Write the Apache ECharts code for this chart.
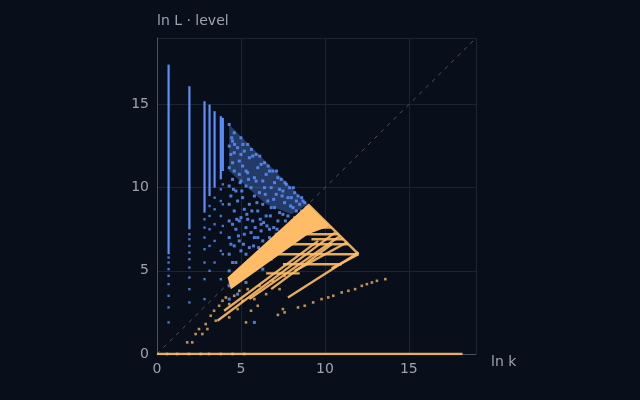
<!DOCTYPE html><html><head><meta charset="utf-8"><script src="https://cdn.jsdelivr.net/npm/echarts@6/dist/echarts.min.js"></script>
<style>html,body{margin:0;background:#080e1a}#c{width:640px;height:400px}</style></head><body><div id="c"></div><script>
var blueColumns=[[0.69,6.0,17.4],[1.93,7.5,16.1],[2.83,8.5,15.2],[3.13,9.5,15.0],[3.43,10,14.6],[3.8,10.5,14.3],[3.92,11,14.2]];
var blueColumnDots=[[0.69,1.9],[0.69,2.8],[0.69,3.5],[0.69,4.2],[0.69,4.7],[0.69,5.1],[0.69,5.5],[0.69,5.8],
[1.93,3.1],[1.93,3.9],[1.93,4.6],[1.93,5.2],[1.93,5.7],[1.93,6.1],[1.93,6.5],[1.93,6.9],[1.93,7.2],
[2.83,3.3],[2.83,4.5],[2.83,5.5],[2.83,6.3],[2.83,7.0],[2.83,7.6],[2.83,8.1],[3.13,5.0],[3.13,6.5],[3.13,7.5],[3.13,8.3],[3.13,8.9],
[3.43,5.5],[3.43,6.8],[3.43,7.8],[3.43,8.7],[3.43,9.4],[3.8,4.5],[3.8,6.2],[3.8,7.3],[3.8,8.3],[3.8,9.2],[3.8,9.9],[3.92,6.0],[3.92,7.7],[3.92,9.0],[3.92,10.2]];
var blueBand=[[4.3,13.8],[9.0,9.0],[8.0,8.4],[6.5,9.0],[4.3,11.0]];
var blueScatter=[[4.3,13.8],[4.3,12.5],[4.3,11.2],[4.3,10.1],[4.3,9.0],[4.3,8.0],[4.3,7.0],[4.3,6.0],[4.3,5.0],[4.3,4.1],[4.3,3.3],
[4.6,13.3],[4.6,12.1],[4.6,11.0],[4.7,9.8],[4.6,8.6],[4.7,7.5],[4.6,6.5],[4.7,5.5],[4.6,4.4],[4.8,3.6],
[5.0,13.0],[5.0,12.0],[5.1,11.3],[5.0,10.4],[5.1,9.4],[5.0,8.2],[5.2,7.2],[5.0,6.2],[5.2,5.1],[5.3,4.3],
[5.4,12.6],[5.5,11.8],[5.4,10.9],[5.6,10.0],[5.5,9.0],[5.4,8.1],[5.6,7.3],[5.5,6.4],[5.7,5.4],[5.8,1.9],
[5.9,12.0],[6.0,11.2],[5.9,10.4],[6.1,9.7],[6.0,8.6],[6.2,7.8],[6.0,7.0],[6.2,6.0],[6.3,5.1],
[6.4,11.5],[6.5,10.8],[6.4,10.0],[6.6,9.2],[6.5,8.3],[6.7,7.5],[6.6,6.6],[6.8,5.7],
[6.9,11.0],[7.0,10.3],[7.1,9.6],[7.0,8.8],[7.2,8.0],[7.1,7.2],[7.3,6.4],
[7.4,10.5],[7.5,9.8],[7.6,9.1],[7.5,8.4],[7.7,7.6],[7.8,6.9],
[7.9,10.0],[8.0,9.4],[8.1,8.8],[8.2,8.2],[8.0,7.4],
[8.4,9.5],[8.5,9.0],[8.6,8.6],[8.8,9.1],[8.9,8.8],
[4.45,13.0],[4.5,12.8],[4.8,12.4],[5.2,12.2],[5.7,11.9],[6.2,11.4],[6.7,11.0],[7.2,10.6],[7.7,10.2],[8.2,9.7],[8.7,9.2],
[4.4,12.0],[4.9,11.6],[5.3,11.0],[5.8,10.6],[6.3,10.4],[6.8,10.0],[7.3,9.9],[7.8,9.4],[8.3,9.2],
[4.5,11.5],[4.9,10.8],[5.3,10.1],[5.8,9.5],[6.3,9.0],[6.8,8.8],[7.3,8.5],[7.8,8.3],
[4.5,10.5],[4.8,9.2],[5.2,8.7],[5.7,8.0],[6.2,7.4],[6.7,7.0],[7.2,6.8],
[4.4,9.5],[4.9,8.0],[5.3,7.6],[5.8,7.0],[6.3,6.8],[4.5,7.8],[4.9,6.8],[5.3,6.0],[5.9,5.8],[4.4,6.6],[4.9,5.0],[5.2,4.8],[4.5,5.5],[4.4,4.6],
[4.55,9.9],[4.75,8.1],[4.85,7.1],[5.05,9.8],[5.15,6.6],[5.35,8.4],[5.45,5.6],[5.65,8.6],[5.75,6.5],[5.85,7.6],[6.05,6.4],[6.15,8.1],[6.35,7.9],[6.45,6.2],[6.55,7.7],
[6.75,8.3],[6.85,6.4],[6.95,7.6],[7.15,7.5],[7.35,7.3],[7.45,7.0],[7.65,8.0],[7.85,7.7],[8.05,8.0],[8.3,8.6],
[4.62,12.6],[5.12,12.6],[5.62,12.3],[6.12,11.9],[6.62,11.3],[7.12,11.0],[7.62,10.3],[8.12,10.0],[8.62,9.4],[4.95,10.3],[5.45,10.5],[5.95,9.1],[6.45,9.6],[6.95,9.3],[7.45,9.5],[7.95,8.9]];
var orangeDense=[[4.2,4.6],[9.0,9.0],[10.3,7.7],[9.0,7.2],[4.4,3.9]];
var orangeStripes=[[8.2,7.2,10.8,7.2],[7.0,6.6,11.4,6.6],[7.2,6.0,12.0,6.0],[7.5,5.4,11.0,5.4],[6.5,4.85,8.5,4.85],[8.6,7.6,10.4,7.6],[9.2,6.9,11.1,6.9],
[3.6,2.0,10.6,7.3],[5.5,3.3,10.9,7.1],[7.8,3.4,12.0,6.1],[6.8,3.9,10.4,6.6],[9.0,9.0,12.0,6.0],[10.4,5.15,12.0,6.0],[4.0,2.6,9.6,6.8],[8.2,5.0,11.3,6.7],[0,0,18.2,0]];
var orangeScatter=[[7.2,2.35],[7.6,2.5],[8.4,2.8],[8.8,2.9],[9.3,3.1],[9.8,3.3],[10.2,3.4],[10.5,3.5],[11.0,3.7],[11.4,3.8],[11.8,3.9],[12.2,4.1],[12.5,4.2],[12.8,4.3],[13.1,4.4],[13.6,4.5],
[1.8,0.7],[2.1,0.7],[2.3,1.2],[2.5,1.5],[2.7,1.2],[2.9,1.8],[3.0,1.5],[3.2,2.3],[3.4,2.6],[3.5,2.0],[3.7,2.9],[3.9,3.2],[4.1,3.4],[4.3,3.0],[4.6,3.5],[4.9,3.8],[5.1,3.2],[5.4,3.9],[5.8,3.3],[6.1,4.1],[6.5,3.6],[6.9,4.4],[7.3,3.9],[7.6,4.7],[6.0,2.9],[5.6,2.6],[4.8,2.7],[4.3,2.2],[5.3,1.9],[7.5,2.7],
[0.6,0],[1.2,0],[1.9,0],[2.6,0],[3.1,0],[3.8,0],[4.5,0],[5.2,0]];
var blue='#5b8ff9',orange='#ffbc66';
function poly(pts,color,op,z){return {type:'custom',data:[0],z:z,silent:true,renderItem:function(p,api){return {type:'polygon',shape:{points:pts.map(function(d){return api.coord(d);})},style:{fill:color,opacity:op}};}};}
var series=[];
series.push({type:'line',data:[[0,0],[19,19]],symbol:'none',silent:true,z:1,lineStyle:{color:'#5d6675',width:0.8,type:[4,5]}});
blueColumns.forEach(function(c){series.push({type:'line',data:[[c[0],c[1]],[c[0],c[2]]],symbol:'none',lineStyle:{color:blue,width:2.2}});});
series.push(poly(blueBand,blue,0.35,2));
series.push({type:'scatter',data:blueColumnDots,symbol:'rect',symbolSize:2.4,itemStyle:{color:blue,opacity:0.8}});
series.push({type:'scatter',data:blueScatter,symbol:'rect',symbolSize:3,itemStyle:{color:blue,opacity:0.85}});
series.push(poly(orangeDense,orange,1,3));
orangeStripes.forEach(function(s){series.push({type:'line',data:[[s[0],s[1]],[s[2],s[3]]],symbol:'none',z:3,lineStyle:{color:orange,width:2.4,opacity:0.9}});});
series.push({type:'scatter',data:orangeScatter,symbol:'rect',symbolSize:2.6,z:3,itemStyle:{color:orange,opacity:0.75}});
var ax={type:'value',min:0,max:19,interval:5,axisLine:{show:true,lineStyle:{color:'#4a5263'}},axisTick:{show:false},
splitLine:{lineStyle:{color:'#1c2433'}},axisLabel:{color:'#9aa3b2',fontSize:14,showMaxLabel:false,fontFamily:'DejaVu Sans'}};
echarts.init(document.getElementById('c')).setOption({backgroundColor:'#080e1a',animation:false,
grid:{left:157,right:164,top:38,bottom:46},
xAxis:Object.assign({},ax,{name:'ln k',nameGap:15,nameTextStyle:{color:'#9aa3b2',fontSize:14,fontFamily:'DejaVu Sans',verticalAlign:'top',padding:[0,0,0,0],lineHeight:16}}),
yAxis:Object.assign({},ax,{name:'ln L · level',nameGap:10,nameTextStyle:{color:'#9aa3b2',fontSize:14,fontFamily:'DejaVu Sans',align:'left'}}),
series:series});
</script></body></html>
